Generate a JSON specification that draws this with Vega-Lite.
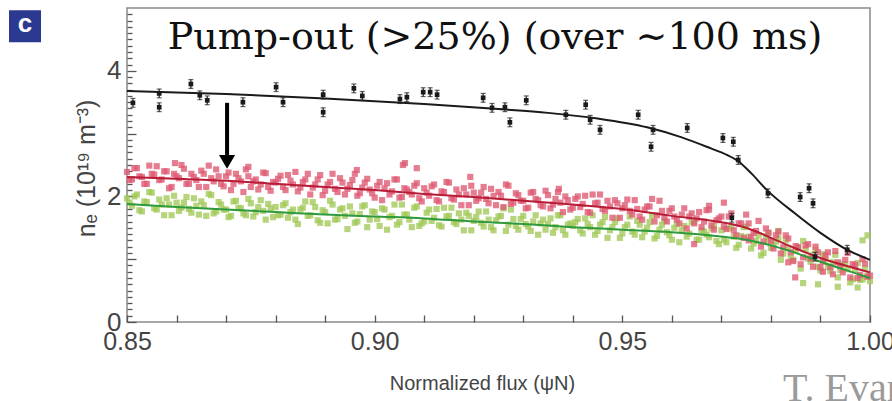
{
  "$schema": "https://vega.github.io/schema/vega-lite/v6.json",
  "width": 743,
  "height": 314,
  "autosize": {"type": "none"},
  "padding": {"left": 127, "top": 8, "right": 22, "bottom": 79},
  "background": "white",
  "config": {
    "view": {"stroke": "#8a8a8a", "strokeWidth": 1.5},
    "axis": {"grid": false, "domain": false, "labelOverlap": false, "labelFlush": false, "labelFont": "Liberation Sans", "titleFont": "Liberation Sans", "titleFontWeight": "normal", "labelColor": "#444", "titleColor": "#444", "tickColor": "#555", "tickWidth": 1.3}
  },
  "datasets": {
    "red": [
      {"psi":0.850,"ne":2.39},{"psi":0.851,"ne":2.27},{"psi":0.852,"ne":2.45},{"psi":0.853,"ne":2.31},{"psi":0.854,"ne":2.20},{"psi":0.855,"ne":2.36},{"psi":0.856,"ne":2.48},{"psi":0.857,"ne":2.27},{"psi":0.858,"ne":2.40},{"psi":0.859,"ne":2.15},
      {"psi":0.860,"ne":2.32},{"psi":0.861,"ne":2.50},{"psi":0.862,"ne":2.20},{"psi":0.863,"ne":2.36},{"psi":0.864,"ne":2.26},{"psi":0.865,"ne":2.41},{"psi":0.866,"ne":2.15},{"psi":0.867,"ne":2.29},{"psi":0.868,"ne":2.43},{"psi":0.869,"ne":2.20},
      {"psi":0.870,"ne":2.32},{"psi":0.871,"ne":2.10},{"psi":0.872,"ne":2.36},{"psi":0.873,"ne":2.24},{"psi":0.874,"ne":2.43},{"psi":0.875,"ne":2.15},{"psi":0.876,"ne":2.27},{"psi":0.877,"ne":2.19},{"psi":0.878,"ne":2.37},{"psi":0.879,"ne":2.09},
      {"psi":0.880,"ne":2.22},{"psi":0.881,"ne":2.33},{"psi":0.882,"ne":2.10},{"psi":0.883,"ne":2.25},{"psi":0.884,"ne":2.39},{"psi":0.885,"ne":2.14},{"psi":0.886,"ne":2.27},{"psi":0.887,"ne":2.03},{"psi":0.888,"ne":2.19},{"psi":0.889,"ne":2.34},
      {"psi":0.890,"ne":2.09},{"psi":0.891,"ne":2.23},{"psi":0.892,"ne":2.12},{"psi":0.893,"ne":2.29},{"psi":0.894,"ne":2.03},{"psi":0.895,"ne":2.18},{"psi":0.896,"ne":2.36},{"psi":0.897,"ne":2.05},{"psi":0.898,"ne":2.22},{"psi":0.899,"ne":2.11},
      {"psi":0.900,"ne":1.98},{"psi":0.901,"ne":2.23},{"psi":0.902,"ne":2.13},{"psi":0.903,"ne":2.03},{"psi":0.904,"ne":2.27},{"psi":0.905,"ne":1.98},{"psi":0.906,"ne":2.13},{"psi":0.907,"ne":2.07},{"psi":0.908,"ne":2.17},{"psi":0.909,"ne":1.97},
      {"psi":0.910,"ne":2.13},{"psi":0.911,"ne":2.01},{"psi":0.912,"ne":2.19},{"psi":0.913,"ne":1.92},{"psi":0.914,"ne":2.07},{"psi":0.915,"ne":2.22},{"psi":0.916,"ne":1.95},{"psi":0.917,"ne":2.03},{"psi":0.918,"ne":2.13},{"psi":0.919,"ne":1.86},
      {"psi":0.920,"ne":2.06},{"psi":0.921,"ne":1.97},{"psi":0.922,"ne":2.15},{"psi":0.923,"ne":1.89},{"psi":0.924,"ne":2.01},{"psi":0.925,"ne":2.07},{"psi":0.926,"ne":1.83},{"psi":0.927,"ne":2.17},{"psi":0.928,"ne":1.90},{"psi":0.929,"ne":2.02},
      {"psi":0.930,"ne":1.93},{"psi":0.931,"ne":1.82},{"psi":0.932,"ne":2.07},{"psi":0.933,"ne":1.94},{"psi":0.934,"ne":1.84},{"psi":0.935,"ne":2.02},{"psi":0.936,"ne":1.87},{"psi":0.937,"ne":2.07},{"psi":0.938,"ne":1.75},{"psi":0.939,"ne":1.94},
      {"psi":0.940,"ne":1.82},{"psi":0.941,"ne":2.00},{"psi":0.942,"ne":1.88},{"psi":0.943,"ne":1.75},{"psi":0.944,"ne":2.03},{"psi":0.945,"ne":1.90},{"psi":0.946,"ne":1.80},{"psi":0.947,"ne":1.93},{"psi":0.948,"ne":1.66},{"psi":0.949,"ne":1.89},
      {"psi":0.950,"ne":1.81},{"psi":0.951,"ne":1.95},{"psi":0.952,"ne":1.71},{"psi":0.953,"ne":1.80},{"psi":0.954,"ne":1.63},{"psi":0.955,"ne":1.84},{"psi":0.956,"ne":1.96},{"psi":0.957,"ne":1.70},{"psi":0.958,"ne":1.77},{"psi":0.959,"ne":1.60},
      {"psi":0.960,"ne":1.81},{"psi":0.961,"ne":1.63},{"psi":0.962,"ne":1.71},{"psi":0.963,"ne":1.49},{"psi":0.964,"ne":1.73},{"psi":0.965,"ne":1.65},{"psi":0.966,"ne":1.51},{"psi":0.967,"ne":1.78},{"psi":0.968,"ne":1.54},{"psi":0.969,"ne":1.62},
      {"psi":0.970,"ne":1.68},{"psi":0.971,"ne":1.48},{"psi":0.972,"ne":1.73},{"psi":0.973,"ne":1.38},{"psi":0.974,"ne":1.57},{"psi":0.975,"ne":1.71},{"psi":0.976,"ne":1.35},{"psi":0.977,"ne":1.45},{"psi":0.978,"ne":1.20},{"psi":0.979,"ne":1.49},
      {"psi":0.980,"ne":1.29},{"psi":0.981,"ne":1.38},{"psi":0.982,"ne":1.09},{"psi":0.983,"ne":1.38},{"psi":0.984,"ne":1.11},{"psi":0.985,"ne":1.21},{"psi":0.986,"ne":0.92},{"psi":0.987,"ne":1.22},{"psi":0.988,"ne":1.01},{"psi":0.989,"ne":1.20},
      {"psi":0.990,"ne":0.87},{"psi":0.991,"ne":1.06},{"psi":0.992,"ne":0.87},{"psi":0.993,"ne":1.13},{"psi":0.994,"ne":0.89},{"psi":0.995,"ne":0.99},{"psi":0.996,"ne":0.71},{"psi":0.997,"ne":0.91},{"psi":0.998,"ne":0.75},{"psi":0.999,"ne":0.93},{"psi":1.000,"ne":0.74},
      {"psi":0.8505,"ne":2.26},{"psi":0.8515,"ne":2.45},{"psi":0.8525,"ne":2.32},{"psi":0.8535,"ne":2.20},{"psi":0.8545,"ne":2.49},{"psi":0.8555,"ne":2.35},{"psi":0.8565,"ne":2.26},{"psi":0.8575,"ne":2.40},{"psi":0.8585,"ne":2.13},{"psi":0.8595,"ne":2.36},
      {"psi":0.8605,"ne":2.29},{"psi":0.8615,"ne":2.44},{"psi":0.8625,"ne":2.20},{"psi":0.8635,"ne":2.31},{"psi":0.8645,"ne":2.15},{"psi":0.8655,"ne":2.36},{"psi":0.8665,"ne":2.49},{"psi":0.8675,"ne":2.24},{"psi":0.8685,"ne":2.32},{"psi":0.8695,"ne":2.16},
      {"psi":0.8705,"ne":2.38},{"psi":0.8715,"ne":2.20},{"psi":0.8725,"ne":2.29},{"psi":0.8735,"ne":2.07},{"psi":0.8745,"ne":2.32},{"psi":0.8755,"ne":2.24},{"psi":0.8765,"ne":2.11},{"psi":0.8775,"ne":2.38},{"psi":0.8785,"ne":2.15},{"psi":0.8795,"ne":2.23},
      {"psi":0.8805,"ne":2.28},{"psi":0.8815,"ne":2.15},{"psi":0.8825,"ne":2.34},{"psi":0.8835,"ne":2.19},{"psi":0.8845,"ne":2.08},{"psi":0.8855,"ne":2.23},{"psi":0.8865,"ne":2.36},{"psi":0.8875,"ne":2.14},{"psi":0.8885,"ne":2.27},{"psi":0.8895,"ne":2.02},
      {"psi":0.8905,"ne":2.19},{"psi":0.8915,"ne":2.36},{"psi":0.8925,"ne":2.07},{"psi":0.8935,"ne":2.22},{"psi":0.8945,"ne":2.12},{"psi":0.8955,"ne":2.26},{"psi":0.8965,"ne":2.01},{"psi":0.8975,"ne":2.14},{"psi":0.8985,"ne":2.28},{"psi":0.8995,"ne":2.05},
      {"psi":0.9005,"ne":2.17},{"psi":0.9015,"ne":1.94},{"psi":0.9025,"ne":2.21},{"psi":0.9035,"ne":2.08},{"psi":0.9045,"ne":2.27},{"psi":0.9055,"ne":1.99},{"psi":0.9065,"ne":2.11},{"psi":0.9075,"ne":2.03},{"psi":0.9085,"ne":2.21},{"psi":0.9095,"ne":1.92},
      {"psi":0.9105,"ne":2.06},{"psi":0.9115,"ne":2.16},{"psi":0.9125,"ne":1.94},{"psi":0.9135,"ne":2.08},{"psi":0.9145,"ne":2.23},{"psi":0.9155,"ne":1.97},{"psi":0.9165,"ne":2.11},{"psi":0.9175,"ne":1.86},{"psi":0.9185,"ne":2.03},{"psi":0.9195,"ne":2.17},
      {"psi":0.9205,"ne":1.93},{"psi":0.9215,"ne":2.06},{"psi":0.9225,"ne":1.96},{"psi":0.9235,"ne":2.12},{"psi":0.9245,"ne":1.86},{"psi":0.9255,"ne":2.01},{"psi":0.9265,"ne":2.19},{"psi":0.9275,"ne":1.88},{"psi":0.9285,"ne":2.05},{"psi":0.9295,"ne":1.93},
      {"psi":0.9305,"ne":1.81},{"psi":0.9315,"ne":2.06},{"psi":0.9325,"ne":1.96},{"psi":0.9335,"ne":1.86},{"psi":0.9345,"ne":2.09},{"psi":0.9355,"ne":1.81},{"psi":0.9365,"ne":1.96},{"psi":0.9375,"ne":1.90},{"psi":0.9385,"ne":2.00},{"psi":0.9395,"ne":1.79},
      {"psi":0.9405,"ne":1.96},{"psi":0.9415,"ne":1.83},{"psi":0.9425,"ne":2.01},{"psi":0.9435,"ne":1.74},{"psi":0.9445,"ne":1.89},{"psi":0.9455,"ne":2.03},{"psi":0.9465,"ne":1.77},{"psi":0.9475,"ne":1.84},{"psi":0.9485,"ne":1.94},{"psi":0.9495,"ne":1.66},
      {"psi":0.9505,"ne":1.86},{"psi":0.9515,"ne":1.77},{"psi":0.9525,"ne":1.94},{"psi":0.9535,"ne":1.68},{"psi":0.9545,"ne":1.79},{"psi":0.9555,"ne":1.84},{"psi":0.9565,"ne":1.60},{"psi":0.9575,"ne":1.93},{"psi":0.9585,"ne":1.66},{"psi":0.9595,"ne":1.77},
      {"psi":0.9605,"ne":1.68},{"psi":0.9615,"ne":1.57},{"psi":0.9625,"ne":1.81},{"psi":0.9635,"ne":1.68},{"psi":0.9645,"ne":1.57},{"psi":0.9655,"ne":1.75},{"psi":0.9665,"ne":1.60},{"psi":0.9675,"ne":1.79},{"psi":0.9685,"ne":1.47},{"psi":0.9695,"ne":1.65},
      {"psi":0.9705,"ne":1.52},{"psi":0.9715,"ne":1.68},{"psi":0.9725,"ne":1.46},{"psi":0.9735,"ne":1.57},{"psi":0.9745,"ne":1.34},{"psi":0.9755,"ne":1.57},{"psi":0.9765,"ne":1.42},{"psi":0.9775,"ne":1.61},{"psi":0.9785,"ne":1.28},{"psi":0.9795,"ne":1.42},
      {"psi":0.9805,"ne":1.17},{"psi":0.9815,"ne":1.44},{"psi":0.9825,"ne":1.19},{"psi":0.9835,"ne":1.33},{"psi":0.9845,"ne":0.97},{"psi":0.9855,"ne":1.19},{"psi":0.9865,"ne":1.03},{"psi":0.9875,"ne":1.24},{"psi":0.9885,"ne":0.88},{"psi":0.9895,"ne":1.11},
      {"psi":0.9905,"ne":0.96},{"psi":0.9915,"ne":1.11},{"psi":0.9925,"ne":0.76},{"psi":0.9935,"ne":0.95},{"psi":0.9945,"ne":0.79},{"psi":0.9955,"ne":1.10},{"psi":0.9965,"ne":0.92},{"psi":0.9975,"ne":0.70},{"psi":0.9985,"ne":1.00},{"psi":0.9995,"ne":0.72},
      {"psi":0.9057,"ne":2.50},{"psi":0.9085,"ne":2.45},{"psi":0.8964,"ne":2.42},{"psi":0.9193,"ne":2.31},{"psi":0.9061,"ne":2.53},{"psi":0.8597,"ne":2.53},{"psi":0.8745,"ne":2.47},{"psi":0.9372,"ne":2.12},
      {"psi":0.9645,"ne":1.24},{"psi":0.9755,"ne":1.30},{"psi":0.9849,"ne":0.71},{"psi":0.9835,"ne":0.95},{"psi":0.9905,"ne":0.80},{"psi":0.9705,"ne":1.90},{"psi":0.9675,"ne":1.85}
    ],
    "green": [
      {"psi":0.850,"ne":1.97},{"psi":0.851,"ne":1.85},{"psi":0.852,"ne":2.03},{"psi":0.853,"ne":1.76},{"psi":0.854,"ne":1.91},{"psi":0.855,"ne":2.06},{"psi":0.856,"ne":1.79},{"psi":0.857,"ne":1.87},{"psi":0.858,"ne":1.97},{"psi":0.859,"ne":1.70},
      {"psi":0.860,"ne":1.90},{"psi":0.861,"ne":1.82},{"psi":0.862,"ne":1.99},{"psi":0.863,"ne":1.74},{"psi":0.864,"ne":1.85},{"psi":0.865,"ne":1.92},{"psi":0.866,"ne":1.69},{"psi":0.867,"ne":2.02},{"psi":0.868,"ne":1.76},{"psi":0.869,"ne":1.87},
      {"psi":0.870,"ne":1.79},{"psi":0.871,"ne":1.69},{"psi":0.872,"ne":1.93},{"psi":0.873,"ne":1.81},{"psi":0.874,"ne":1.70},{"psi":0.875,"ne":1.89},{"psi":0.876,"ne":1.75},{"psi":0.877,"ne":1.94},{"psi":0.878,"ne":1.63},{"psi":0.879,"ne":1.81},
      {"psi":0.880,"ne":1.83},{"psi":0.881,"ne":1.71},{"psi":0.882,"ne":1.89},{"psi":0.883,"ne":1.75},{"psi":0.884,"ne":1.63},{"psi":0.885,"ne":1.79},{"psi":0.886,"ne":1.92},{"psi":0.887,"ne":1.70},{"psi":0.888,"ne":1.83},{"psi":0.889,"ne":1.58},
      {"psi":0.890,"ne":1.75},{"psi":0.891,"ne":1.93},{"psi":0.892,"ne":1.63},{"psi":0.893,"ne":1.79},{"psi":0.894,"ne":1.69},{"psi":0.895,"ne":1.84},{"psi":0.896,"ne":1.58},{"psi":0.897,"ne":1.72},{"psi":0.898,"ne":1.86},{"psi":0.899,"ne":1.63},
      {"psi":0.900,"ne":1.75},{"psi":0.901,"ne":1.53},{"psi":0.902,"ne":1.79},{"psi":0.903,"ne":1.67},{"psi":0.904,"ne":1.87},{"psi":0.905,"ne":1.59},{"psi":0.906,"ne":1.71},{"psi":0.907,"ne":1.63},{"psi":0.908,"ne":1.82},{"psi":0.909,"ne":1.53},
      {"psi":0.910,"ne":1.60},{"psi":0.911,"ne":1.79},{"psi":0.912,"ne":1.66},{"psi":0.913,"ne":1.54},{"psi":0.914,"ne":1.82},{"psi":0.915,"ne":1.69},{"psi":0.916,"ne":1.59},{"psi":0.917,"ne":1.73},{"psi":0.918,"ne":1.46},{"psi":0.919,"ne":1.69},
      {"psi":0.920,"ne":1.61},{"psi":0.921,"ne":1.76},{"psi":0.922,"ne":1.52},{"psi":0.923,"ne":1.63},{"psi":0.924,"ne":1.46},{"psi":0.925,"ne":1.68},{"psi":0.926,"ne":1.81},{"psi":0.927,"ne":1.55},{"psi":0.928,"ne":1.64},{"psi":0.929,"ne":1.47},
      {"psi":0.930,"ne":1.69},{"psi":0.931,"ne":1.52},{"psi":0.932,"ne":1.60},{"psi":0.933,"ne":1.39},{"psi":0.934,"ne":1.63},{"psi":0.935,"ne":1.56},{"psi":0.936,"ne":1.42},{"psi":0.937,"ne":1.70},{"psi":0.938,"ne":1.46},{"psi":0.939,"ne":1.55},
      {"psi":0.940,"ne":1.53},{"psi":0.941,"ne":1.64},{"psi":0.942,"ne":1.41},{"psi":0.943,"ne":1.56},{"psi":0.944,"ne":1.70},{"psi":0.945,"ne":1.45},{"psi":0.946,"ne":1.59},{"psi":0.947,"ne":1.34},{"psi":0.948,"ne":1.51},{"psi":0.949,"ne":1.65},
      {"psi":0.950,"ne":1.41},{"psi":0.951,"ne":1.55},{"psi":0.952,"ne":1.44},{"psi":0.953,"ne":1.61},{"psi":0.954,"ne":1.35},{"psi":0.955,"ne":1.50},{"psi":0.956,"ne":1.69},{"psi":0.957,"ne":1.37},{"psi":0.958,"ne":1.55},{"psi":0.959,"ne":1.43},
      {"psi":0.960,"ne":1.31},{"psi":0.961,"ne":1.56},{"psi":0.962,"ne":1.46},{"psi":0.963,"ne":1.36},{"psi":0.964,"ne":1.59},{"psi":0.965,"ne":1.31},{"psi":0.966,"ne":1.46},{"psi":0.967,"ne":1.39},{"psi":0.968,"ne":1.49},{"psi":0.969,"ne":1.29},
      {"psi":0.970,"ne":1.46},{"psi":0.971,"ne":1.27},{"psi":0.972,"ne":1.52},{"psi":0.973,"ne":1.18},{"psi":0.974,"ne":1.37},{"psi":0.975,"ne":1.52},{"psi":0.976,"ne":1.17},{"psi":0.977,"ne":1.29},{"psi":0.978,"ne":1.06},{"psi":0.979,"ne":1.37},
      {"psi":0.980,"ne":1.18},{"psi":0.981,"ne":1.28},{"psi":0.982,"ne":0.99},{"psi":0.983,"ne":1.30},{"psi":0.984,"ne":1.03},{"psi":0.985,"ne":1.14},{"psi":0.986,"ne":0.85},{"psi":0.987,"ne":1.15},{"psi":0.988,"ne":0.96},{"psi":0.989,"ne":1.15},
      {"psi":0.990,"ne":0.82},{"psi":0.991,"ne":1.00},{"psi":0.992,"ne":0.81},{"psi":0.993,"ne":1.07},{"psi":0.994,"ne":0.83},{"psi":0.995,"ne":0.92},{"psi":0.996,"ne":0.63},{"psi":0.997,"ne":0.83},{"psi":0.998,"ne":0.67},{"psi":0.999,"ne":0.85},{"psi":1.000,"ne":0.65},
      {"psi":0.8505,"ne":1.90},{"psi":0.8515,"ne":2.00},{"psi":0.8525,"ne":1.78},{"psi":0.8535,"ne":1.92},{"psi":0.8545,"ne":2.07},{"psi":0.8555,"ne":1.81},{"psi":0.8565,"ne":1.95},{"psi":0.8575,"ne":1.70},{"psi":0.8585,"ne":1.87},{"psi":0.8595,"ne":2.01},
      {"psi":0.8605,"ne":1.77},{"psi":0.8615,"ne":1.90},{"psi":0.8625,"ne":1.80},{"psi":0.8635,"ne":1.97},{"psi":0.8645,"ne":1.71},{"psi":0.8655,"ne":1.86},{"psi":0.8665,"ne":2.04},{"psi":0.8675,"ne":1.73},{"psi":0.8685,"ne":1.91},{"psi":0.8695,"ne":1.79},
      {"psi":0.8705,"ne":1.67},{"psi":0.8715,"ne":1.92},{"psi":0.8725,"ne":1.82},{"psi":0.8735,"ne":1.73},{"psi":0.8745,"ne":1.96},{"psi":0.8755,"ne":1.68},{"psi":0.8765,"ne":1.83},{"psi":0.8775,"ne":1.77},{"psi":0.8785,"ne":1.88},{"psi":0.8795,"ne":1.67},
      {"psi":0.8805,"ne":1.70},{"psi":0.8815,"ne":1.86},{"psi":0.8825,"ne":1.66},{"psi":0.8835,"ne":1.79},{"psi":0.8845,"ne":1.56},{"psi":0.8855,"ne":1.82},{"psi":0.8865,"ne":1.69},{"psi":0.8875,"ne":1.91},{"psi":0.8885,"ne":1.62},{"psi":0.8895,"ne":1.78},
      {"psi":0.8905,"ne":1.57},{"psi":0.8915,"ne":1.87},{"psi":0.8925,"ne":1.64},{"psi":0.8935,"ne":1.81},{"psi":0.8945,"ne":1.48},{"psi":0.8955,"ne":1.73},{"psi":0.8965,"ne":1.60},{"psi":0.8975,"ne":1.84},{"psi":0.8985,"ne":1.51},{"psi":0.8995,"ne":1.76},
      {"psi":0.9005,"ne":1.64},{"psi":0.9015,"ne":1.81},{"psi":0.9025,"ne":1.47},{"psi":0.9035,"ne":1.69},{"psi":0.9045,"ne":1.55},{"psi":0.9055,"ne":1.87},{"psi":0.9065,"ne":1.71},{"psi":0.9075,"ne":1.51},{"psi":0.9085,"ne":1.84},{"psi":0.9095,"ne":1.57},
      {"psi":0.9105,"ne":1.74},{"psi":0.9115,"ne":1.61},{"psi":0.9125,"ne":1.80},{"psi":0.9135,"ne":1.52},{"psi":0.9145,"ne":1.68},{"psi":0.9155,"ne":1.82},{"psi":0.9165,"ne":1.56},{"psi":0.9175,"ne":1.63},{"psi":0.9185,"ne":1.74},{"psi":0.9195,"ne":1.46},
      {"psi":0.9205,"ne":1.67},{"psi":0.9215,"ne":1.58},{"psi":0.9225,"ne":1.76},{"psi":0.9235,"ne":1.51},{"psi":0.9245,"ne":1.62},{"psi":0.9255,"ne":1.69},{"psi":0.9265,"ne":1.45},{"psi":0.9275,"ne":1.79},{"psi":0.9285,"ne":1.53},{"psi":0.9295,"ne":1.64},
      {"psi":0.9305,"ne":1.56},{"psi":0.9315,"ne":1.45},{"psi":0.9325,"ne":1.70},{"psi":0.9335,"ne":1.57},{"psi":0.9345,"ne":1.47},{"psi":0.9355,"ne":1.65},{"psi":0.9365,"ne":1.51},{"psi":0.9375,"ne":1.70},{"psi":0.9385,"ne":1.39},{"psi":0.9395,"ne":1.57},
      {"psi":0.9405,"ne":1.59},{"psi":0.9415,"ne":1.46},{"psi":0.9425,"ne":1.65},{"psi":0.9435,"ne":1.51},{"psi":0.9445,"ne":1.39},{"psi":0.9455,"ne":1.55},{"psi":0.9465,"ne":1.67},{"psi":0.9475,"ne":1.46},{"psi":0.9485,"ne":1.59},{"psi":0.9495,"ne":1.34},
      {"psi":0.9505,"ne":1.51},{"psi":0.9515,"ne":1.68},{"psi":0.9525,"ne":1.39},{"psi":0.9535,"ne":1.55},{"psi":0.9545,"ne":1.44},{"psi":0.9555,"ne":1.59},{"psi":0.9565,"ne":1.33},{"psi":0.9575,"ne":1.47},{"psi":0.9585,"ne":1.61},{"psi":0.9595,"ne":1.38},
      {"psi":0.9605,"ne":1.50},{"psi":0.9615,"ne":1.27},{"psi":0.9625,"ne":1.53},{"psi":0.9635,"ne":1.41},{"psi":0.9645,"ne":1.60},{"psi":0.9655,"ne":1.31},{"psi":0.9665,"ne":1.44},{"psi":0.9675,"ne":1.35},{"psi":0.9685,"ne":1.53},{"psi":0.9695,"ne":1.24},
      {"psi":0.9705,"ne":1.31},{"psi":0.9715,"ne":1.49},{"psi":0.9725,"ne":1.36},{"psi":0.9735,"ne":1.23},{"psi":0.9745,"ne":1.51},{"psi":0.9755,"ne":1.36},{"psi":0.9765,"ne":1.25},{"psi":0.9775,"ne":1.38},{"psi":0.9785,"ne":1.10},{"psi":0.9795,"ne":1.31},
      {"psi":0.9805,"ne":1.22},{"psi":0.9815,"ne":1.34},{"psi":0.9825,"ne":1.09},{"psi":0.9835,"ne":1.18},{"psi":0.9845,"ne":0.99},{"psi":0.9855,"ne":1.19},{"psi":0.9865,"ne":1.29},{"psi":0.9875,"ne":1.01},{"psi":0.9885,"ne":1.07},{"psi":0.9895,"ne":0.88},
      {"psi":0.9905,"ne":1.08},{"psi":0.9915,"ne":0.88},{"psi":0.9925,"ne":0.95},{"psi":0.9935,"ne":0.71},{"psi":0.9945,"ne":0.93},{"psi":0.9955,"ne":0.84},{"psi":0.9965,"ne":0.68},{"psi":0.9975,"ne":0.94},{"psi":0.9985,"ne":0.68},{"psi":0.9995,"ne":0.74},
      {"psi":0.9935,"ne":0.56},{"psi":0.9865,"ne":0.62},{"psi":0.9975,"ne":0.55},{"psi":0.9985,"ne":1.30},{"psi":0.9995,"ne":1.38},{"psi":0.9815,"ne":1.45},{"psi":0.9795,"ne":1.42},{"psi":0.9895,"ne":0.60}
    ],
    "black": [
      {"psi":0.8512,"ne":3.49,"err":0.07},{"psi":0.8565,"ne":3.64,"err":0.07},{"psi":0.8565,"ne":3.42,"err":0.07},{"psi":0.8629,"ne":3.79,"err":0.07},{"psi":0.8647,"ne":3.61,"err":0.07},
      {"psi":0.8662,"ne":3.53,"err":0.07},{"psi":0.8734,"ne":3.50,"err":0.07},{"psi":0.8801,"ne":3.74,"err":0.07},{"psi":0.8815,"ne":3.50,"err":0.07},{"psi":0.8896,"ne":3.62,"err":0.07},
      {"psi":0.8896,"ne":3.34,"err":0.07},{"psi":0.8958,"ne":3.72,"err":0.07},{"psi":0.8975,"ne":3.60,"err":0.07},{"psi":0.9051,"ne":3.55,"err":0.07},{"psi":0.9065,"ne":3.58,"err":0.07},
      {"psi":0.9098,"ne":3.66,"err":0.07},{"psi":0.9112,"ne":3.66,"err":0.07},{"psi":0.9126,"ne":3.62,"err":0.07},{"psi":0.9219,"ne":3.57,"err":0.07},{"psi":0.9237,"ne":3.41,"err":0.07},
      {"psi":0.9263,"ne":3.42,"err":0.07},{"psi":0.9273,"ne":3.18,"err":0.07},{"psi":0.9306,"ne":3.53,"err":0.07},{"psi":0.9386,"ne":3.30,"err":0.07},{"psi":0.9426,"ne":3.46,"err":0.07},
      {"psi":0.9435,"ne":3.22,"err":0.07},{"psi":0.9455,"ne":3.06,"err":0.07},{"psi":0.9532,"ne":3.30,"err":0.07},{"psi":0.9562,"ne":3.06,"err":0.07},{"psi":0.9558,"ne":2.79,"err":0.07},
      {"psi":0.9631,"ne":3.09,"err":0.07},{"psi":0.9703,"ne":2.93,"err":0.07},{"psi":0.9724,"ne":2.87,"err":0.07},{"psi":0.9734,"ne":2.58,"err":0.07},{"psi":0.9794,"ne":2.05,"err":0.07},
      {"psi":0.9859,"ne":1.99,"err":0.07},{"psi":0.9877,"ne":2.13,"err":0.07},{"psi":0.9885,"ne":1.89,"err":0.07},{"psi":0.9889,"ne":1.04,"err":0.07},{"psi":0.9954,"ne":1.15,"err":0.07},
      {"psi":0.9721,"ne":1.66,"err":0.07}
    ],
    "fitBlack": [
      {"psi":0.85,"ne":3.68},{"psi":0.87,"ne":3.63},{"psi":0.89,"ne":3.56},{"psi":0.91,"ne":3.47},{"psi":0.925,"ne":3.39},{"psi":0.935,"ne":3.33},{"psi":0.945,"ne":3.24},{"psi":0.955,"ne":3.10},{"psi":0.962,"ne":2.94},{"psi":0.968,"ne":2.76},{"psi":0.971,"ne":2.665},{"psi":0.9734,"ne":2.56},{"psi":0.976,"ne":2.37},{"psi":0.9792,"ne":2.10},{"psi":0.985,"ne":1.72},{"psi":0.990,"ne":1.42},{"psi":0.9954,"ne":1.15},{"psi":1.0,"ne":0.99}
    ],
    "fitRed": [
      {"psi":0.85,"ne":2.31},{"psi":0.86,"ne":2.28},{"psi":0.87,"ne":2.25},{"psi":0.88,"ne":2.20},{"psi":0.89,"ne":2.15},{"psi":0.90,"ne":2.10},{"psi":0.91,"ne":2.04},{"psi":0.92,"ne":1.99},{"psi":0.93,"ne":1.93},{"psi":0.94,"ne":1.87},{"psi":0.95,"ne":1.80},{"psi":0.96,"ne":1.69},{"psi":0.97,"ne":1.59},{"psi":0.975,"ne":1.50},{"psi":0.98,"ne":1.34},{"psi":0.985,"ne":1.17},{"psi":0.99,"ne":1.02},{"psi":0.995,"ne":0.90},{"psi":1.0,"ne":0.79}
    ],
    "fitGreen": [
      {"psi":0.85,"ne":1.88},{"psi":0.86,"ne":1.83},{"psi":0.87,"ne":1.79},{"psi":0.88,"ne":1.75},{"psi":0.89,"ne":1.71},{"psi":0.90,"ne":1.68},{"psi":0.91,"ne":1.65},{"psi":0.92,"ne":1.60},{"psi":0.93,"ne":1.56},{"psi":0.94,"ne":1.51},{"psi":0.95,"ne":1.47},{"psi":0.96,"ne":1.43},{"psi":0.97,"ne":1.36},{"psi":0.975,"ne":1.31},{"psi":0.98,"ne":1.22},{"psi":0.985,"ne":1.10},{"psi":0.99,"ne":0.96},{"psi":0.995,"ne":0.83},{"psi":1.0,"ne":0.70}
    ]
  },
  "resolve": {"axis": {"y": "independent"}},
  "layer": [
    {
      "layer": [
        {"data": {"name": "green"}, "mark": {"type": "point", "shape": "square", "filled": true, "size": 38, "color": "#a3c95a", "opacity": 0.8},
         "encoding": {
          "x": {
            "field": "psi", "type": "quantitative", "title": "Normalized flux (ψN)",
            "scale": {"domain": [0.85, 1.0], "nice": false, "zero": false},
            "axis": {
              "values": [0.85,0.86,0.87,0.88,0.89,0.90,0.91,0.92,0.93,0.94,0.95,0.96,0.97,0.98,0.99,1.00],
              "format": ".2f",
              "labelExpr": "abs(datum.value*20 - round(datum.value*20)) < 1e-6 ? datum.label : ''",
              "labelFontSize": 25,
              "labelPadding": 7,
              "offset": -7,
              "tickSize": 7,
              "titleFontSize": 20,
              "titleX": 355,
              "titleY": 68,
              "titleBaseline": "middle"
            }
          },
          "y": {
            "field": "ne", "type": "quantitative", "title": "nₑ (10¹⁹ m⁻³)",
            "scale": {"domain": [0, 5], "nice": false},
            "axis": {
              "orient": "left",
              "values": [0, 1, 2, 3, 4],
              "format": "d",
              "labelExpr": "datum.value % 2 === 0 ? datum.label : ''",
              "labelFontSize": 26,
              "labelPadding": 6,
              "offset": -9,
              "tickSize": 9,
              "titleFontSize": 25,
              "titleX": -50,
              "titleY": 160,
              "titleAngle": -90,
              "titleBaseline": "middle",
              "titleAlign": "center"
            }
          }
         }},
        {"data": {"name": "red"}, "mark": {"type": "point", "shape": "square", "filled": true, "size": 38, "color": "#de5b74", "opacity": 0.8},
         "encoding": {"x": {"field": "psi", "type": "quantitative", "title": "Normalized flux (ψN)"}, "y": {"field": "ne", "type": "quantitative", "title": "nₑ (10¹⁹ m⁻³)"}}},
        {"data": {"name": "fitGreen"}, "mark": {"type": "line", "interpolate": "monotone", "color": "#2e9a3c", "strokeWidth": 2},
         "encoding": {"x": {"field": "psi", "type": "quantitative", "title": "Normalized flux (ψN)"}, "y": {"field": "ne", "type": "quantitative", "title": "nₑ (10¹⁹ m⁻³)"}}},
        {"data": {"name": "fitRed"}, "mark": {"type": "line", "interpolate": "monotone", "color": "#b81c36", "strokeWidth": 2},
         "encoding": {"x": {"field": "psi", "type": "quantitative", "title": "Normalized flux (ψN)"}, "y": {"field": "ne", "type": "quantitative", "title": "nₑ (10¹⁹ m⁻³)"}}},
        {"data": {"name": "fitBlack"}, "mark": {"type": "line", "interpolate": "monotone", "color": "#1a1a1a", "strokeWidth": 2},
         "encoding": {"x": {"field": "psi", "type": "quantitative", "title": "Normalized flux (ψN)"}, "y": {"field": "ne", "type": "quantitative", "title": "nₑ (10¹⁹ m⁻³)"}}},
        {"data": {"name": "black"}, "mark": {"type": "errorbar", "ticks": {"size": 5, "color": "#222"}, "color": "#222", "thickness": 1.2},
         "encoding": {"x": {"field": "psi", "type": "quantitative", "title": "Normalized flux (ψN)"}, "y": {"field": "ne", "type": "quantitative", "title": "nₑ (10¹⁹ m⁻³)"}, "yError": {"field": "err"}}},
        {"data": {"name": "black"}, "mark": {"type": "point", "shape": "square", "filled": true, "size": 22, "color": "#1a1a1a", "opacity": 1},
         "encoding": {"x": {"field": "psi", "type": "quantitative", "title": "Normalized flux (ψN)"}, "y": {"field": "ne", "type": "quantitative", "title": "nₑ (10¹⁹ m⁻³)"}}},
        {"data": {"values": [{}]}, "mark": {"type": "rule", "strokeWidth": 4, "color": "black"},
         "encoding": {"x": {"datum": 0.8702, "type": "quantitative"}, "y": {"datum": 3.49, "type": "quantitative"}, "y2": {"datum": 2.6}}},
        {"data": {"values": [{}]}, "mark": {"type": "point", "shape": "triangle-down", "filled": true, "size": 260, "color": "black", "opacity": 1},
         "encoding": {"x": {"datum": 0.8702, "type": "quantitative"}, "y": {"datum": 2.55, "type": "quantitative"}}},
        {"data": {"values": [{}]}, "mark": {"type": "text", "text": "Pump-out (>25%) (over ∼100 ms)", "font": "DejaVu Serif", "fontSize": 38, "align": "center", "baseline": "alphabetic", "color": "#111"},
         "encoding": {"x": {"datum": 0.9243, "type": "quantitative"}, "y": {"datum": 4.35, "type": "quantitative"}}},
        {"data": {"values": [{}]}, "mark": {"type": "point", "shape": "square", "filled": true, "size": 1024, "color": "#2b3990", "opacity": 1, "clip": false},
         "encoding": {"x": {"datum": 0.82941, "type": "quantitative"}, "y": {"datum": 4.71, "type": "quantitative"}}},
        {"data": {"values": [{}]}, "mark": {"type": "text", "text": "c", "font": "Liberation Sans", "fontWeight": "bold", "fontSize": 26, "align": "center", "baseline": "middle", "color": "white", "clip": false},
         "encoding": {"x": {"datum": 0.82941, "type": "quantitative"}, "y": {"datum": 4.74, "type": "quantitative"}}},
        {"data": {"values": [{}]}, "mark": {"type": "text", "text": "T. Evans", "font": "Liberation Serif", "fontSize": 40, "align": "left", "baseline": "alphabetic", "color": "#9a9a9a", "clip": false},
         "encoding": {"x": {"datum": 0.98245, "type": "quantitative"}, "y": {"datum": -1.26, "type": "quantitative"}}}
      ]
    },
    {
      "data": {"name": "fitGreen"},
      "mark": {"type": "point", "opacity": 0},
      "encoding": {
        "x": {"field": "psi", "type": "quantitative", "title": "Normalized flux (ψN)"},
        "y": {
          "field": "ne", "type": "quantitative", "title": null,
          "axis": {
            "orient": "left",
            "values": [0.1,0.2,0.3,0.4,0.5,0.6,0.7,0.8,0.9,1.1,1.2,1.3,1.4,1.5,1.6,1.7,1.8,1.9,2.1,2.2,2.3,2.4,2.5,2.6,2.7,2.8,2.9,3.1,3.2,3.3,3.4,3.5,3.6,3.7,3.8,3.9,4.1,4.2,4.3,4.4,4.5,4.6,4.7,4.8,4.9],
            "labels": false,
            "offset": -5,
            "tickSize": 5
          }
        }
      }
    }
  ]
}
